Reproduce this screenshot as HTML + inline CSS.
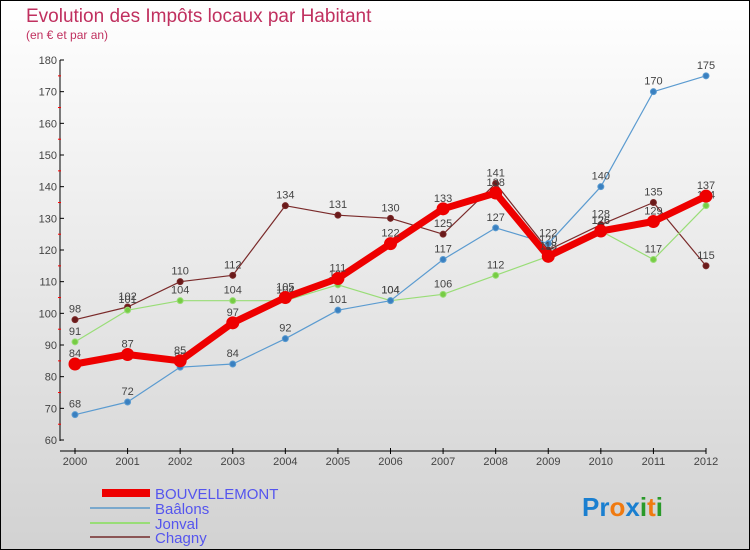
<!DOCTYPE html>
<html><head><meta charset="utf-8"><style>
body{margin:0}
#c{width:750px;height:550px;position:relative;background:linear-gradient(#ffffff,#d2d2d2);box-sizing:border-box;border:1px solid #000;font-family:"Liberation Sans",sans-serif;overflow:hidden}
</style></head><body>
<div id="c">
<svg id="s" width="750" height="550" style="position:absolute;left:-1px;top:-1px">
<text x="26" y="22" font-size="19" fill="#c0305f">Evolution des Impôts locaux par Habitant</text>
<text x="26" y="39" font-size="12" fill="#c0305f">(en € et par an)</text>
<g id="axes"></g><g id="series"></g>
<g>
<rect x="102" y="489" width="48" height="8" fill="#e00"/>
<text x="155" y="499" font-size="15" fill="#5555ee">BOUVELLEMONT</text>
<rect x="90" y="507" width="60" height="2" fill="#7aa8cc"/>
<text x="155" y="514" font-size="15" fill="#5555ee">Baâlons</text>
<rect x="90" y="522" width="60" height="2" fill="#99dd77"/>
<text x="155" y="529" font-size="15" fill="#5555ee">Jonval</text>
<rect x="90" y="536" width="60" height="2" fill="#8b5555"/>
<text x="155" y="543" font-size="15" fill="#5555ee">Chagny</text>
</g>
<text x="582" y="516" font-size="26" font-weight="bold"><tspan fill="#1a7fd0">Pr</tspan><tspan fill="#f07a10">o</tspan><tspan fill="#1a7fd0">x</tspan><tspan fill="#2a9a2a">i</tspan><tspan fill="#f07a10">t</tspan><tspan fill="#2a9a2a">i</tspan></text>
</svg>
</div>
<script>
const years=[2000,2001,2002,2003,2004,2005,2006,2007,2008,2009,2010,2011,2012];
const yTicks=[60,70,80,90,100,110,120,130,140,150,160,170,180];
const bouvellemont=[84,87,85,97,105,111,122,133,138,118,126,129,137];
const baalons=[68,72,83,84,92,101,104,117,127,122,140,170,175];
const jonval=[91,101,104,104,104,109,104,106,112,118,126,117,134];
const chagny=[98,102,110,112,134,131,130,125,141,120,128,135,115];
const NS="http://www.w3.org/2000/svg";
const xS=i=>75+i*(706-75)/(years.length-1);
const yS=v=>440-(v-60)*(380/120);
function mk(t,a,p){const e=document.createElementNS(NS,t);for(const k in a)e.setAttribute(k,a[k]);p.appendChild(e);return e;}
const ax=document.getElementById('axes');
const ya=mk('line',{x1:60,y1:60,x2:60,y2:441,stroke:'#000'},ax);


const xa=mk('line',{x1:60,y1:451,x2:706,y2:451,stroke:'#000'},ax);


yTicks.forEach(v=>{const y=yS(v);mk('line',{x1:60,y1:y,x2:64,y2:y,stroke:'#000'},ax);
if(v<180)mk('line',{x1:58,y1:y-15.8,x2:61,y2:y-15.8,stroke:'#f00'},ax);
const t=mk('text',{x:57,y:y+4,'text-anchor':'end','font-size':11,fill:'#444'},ax);t.textContent=v;

});
years.forEach((yr,i)=>{const x=xS(i);mk('line',{x1:x,y1:448,x2:x,y2:454,stroke:'#000'},ax);
const t=mk('text',{x:x,y:465,'text-anchor':'middle','font-size':11,fill:'#444'},ax);t.textContent=yr;

});
const sg=document.getElementById('series');
function draw(vals,name,color,w,r,dot){
const g=mk('g',{},sg);


const pl=mk('polyline',{points:vals.map((v,i)=>xS(i)+','+yS(v)).join(' '),fill:'none',stroke:color,'stroke-width':w,'stroke-linejoin':'round'},g);


vals.forEach((v,i)=>{const c=mk('circle',{cx:xS(i),cy:yS(v),r:r,fill:dot,stroke:color,'stroke-width':1},g);


const t=mk('text',{x:xS(i),y:yS(v)-7,'text-anchor':'middle','font-size':11,fill:'#444'},g);t.textContent=v;

});}
draw(chagny,'chagny','#7a2a2a',1.2,3,'#6a1a1a');
draw(jonval,'jonval','#99dd77',1.2,3,'#77cc44');
draw(baalons,'baalons','#5b9bd0',1.2,3,'#3a80c0');
draw(bouvellemont,'bouvellemont','#ee0000',7,6,'#ee0000');
</script>
</body></html>
